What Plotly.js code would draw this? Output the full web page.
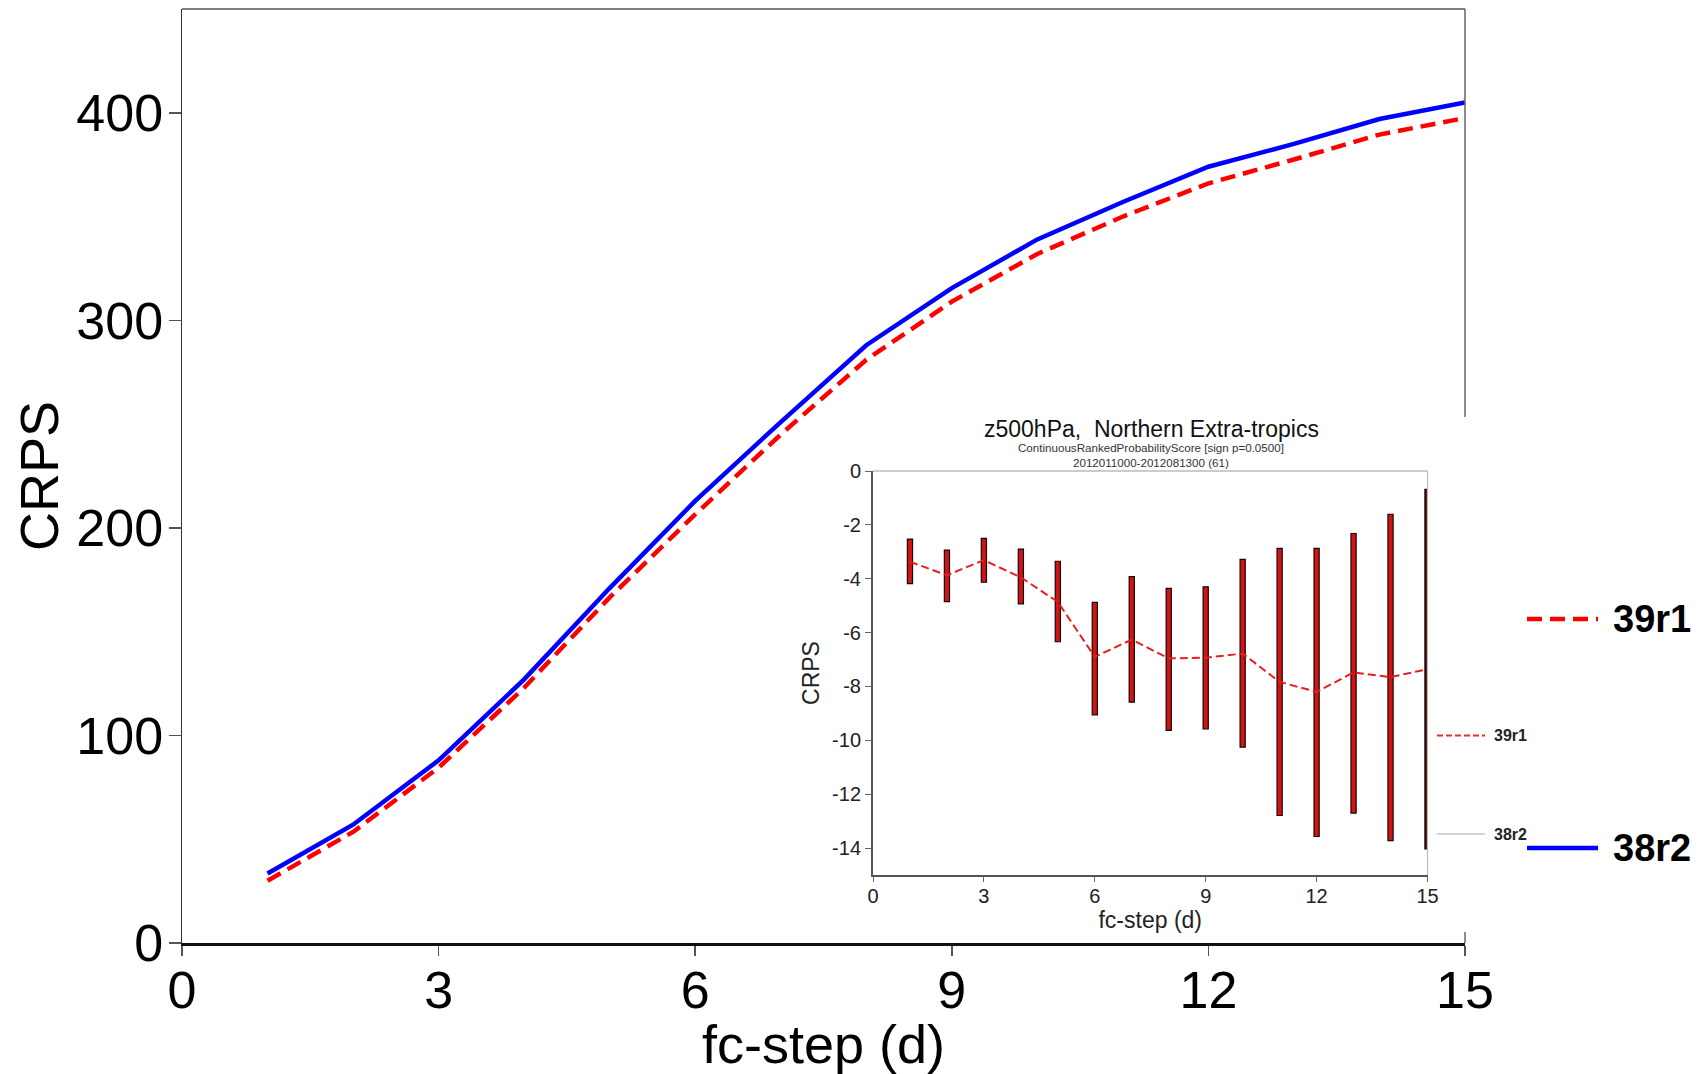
<!DOCTYPE html>
<html>
<head>
<meta charset="utf-8">
<script src="https://cdn.plot.ly/plotly-3.0.1.min.js"></script>
<style>html,body{margin:0;padding:0;background:#fff;}#chart{width:1708px;height:1074px;}</style>
</head>
<body>
<div id="chart"></div>
<script>
// ---- data ----
const days = [1, 2, 3, 4, 5, 6, 7, 8, 9, 10, 11, 12, 13, 14, 15];
const crps38r2 = [33.5, 57, 88, 127, 171, 213, 251, 288, 315.5, 339, 357, 374, 385, 397, 405];
const crps39r1 = [30, 53.5, 84.5, 123, 166.5, 206.5, 245, 281, 309, 332, 350, 366, 377.5, 389.5, 397.5];
const diff39r1 = [-3.37, -3.87, -3.31, -3.95, -4.86, -6.90, -6.26, -6.96, -6.93, -6.78, -7.83, -8.20, -7.48, -7.65, -7.36];
const ciUpper = [-2.53, -2.94, -2.50, -2.90, -3.35, -4.88, -3.92, -4.36, -4.30, -3.28, -2.87, -2.87, -2.32, -1.61, -0.68];
const ciLower = [-4.18, -4.85, -4.13, -4.93, -6.34, -9.06, -8.58, -9.63, -9.58, -10.25, -12.79, -13.57, -12.70, -13.72, -14.03];
const mainXTicks = [0, 3, 6, 9, 12, 15];
const mainYTicks = [0, 100, 200, 300, 400];
const insetYTickVals = [0, -2, -4, -6, -8, -10, -12, -14];
const insetYTickText = ["0", "-2", "-4", "-6", "-8", "-10", "-12", "-14"];
const seriesNames = ["39r1", "38r2"];
const insetTitle = "z500hPa,  Northern Extra-tropics";
const insetSub1 = "ContinuousRankedProbabilityScore [sign p=0.0500]";
const insetSub2 = "2012011000-2012081300 (61)";

// ---- geometry helpers (pixel -> paper) ----
const ML = 182, MR = 1708 - 1465, MT = 9, MB = 1074 - 943;
const PW = 1708 - ML - MR, PH = 1074 - MT - MB;
const px = x => (x - ML) / PW;
const py = y => (943 - y) / PH;

const FONT = "Liberation Sans, Arial, Helvetica, sans-serif";

const barColors = days.map((d, i) => i === days.length - 1 ? "#4a1014" : "#d01414");

const traces = [
  {
    x: days, y: crps39r1, type: "scatter", mode: "lines", name: seriesNames[0],
    line: {color: "#ff0000", width: 4.5, dash: "15px,8px"}, xaxis: "x", yaxis: "y"
  },
  {
    x: days, y: crps38r2, type: "scatter", mode: "lines", name: seriesNames[1],
    line: {color: "#0000ff", width: 4.5}, xaxis: "x", yaxis: "y"
  },
  {
    x: days, base: ciLower, y: ciUpper.map((u, i) => u - ciLower[i]), type: "bar",
    width: 0.14, marker: {color: barColors, line: {color: "#1a0505", width: 1.2}},
    xaxis: "x2", yaxis: "y2", name: "significance"
  },
  {
    x: days, y: diff39r1, type: "scatter", mode: "lines", name: seriesNames[0] + " diff",
    line: {color: "#e52020", width: 2, dash: "8px,4px"}, xaxis: "x2", yaxis: "y2"
  }
];

const layout = {
  width: 1708, height: 1074,
  margin: {l: ML, r: MR, t: MT, b: MB, pad: 0},
  paper_bgcolor: "#ffffff", plot_bgcolor: "rgba(0,0,0,0)",
  showlegend: false,
  font: {family: FONT, color: "#000"},
  xaxis: {
    range: [0, 15], tickvals: mainXTicks, ticks: "outside", ticklen: 10, tickwidth: 1.5, tickcolor: "#555",
    showline: true, linecolor: "#111", linewidth: 2.5, showgrid: false, zeroline: false,
    tickfont: {size: 52, family: FONT}, domain: [0, 1], ticklabelstandoff: -10,
    title: {text: "fc-step (d)", font: {size: 54, family: FONT}, standoff: 2}
  },
  yaxis: {
    range: [0, 450], tickvals: mainYTicks, ticks: "outside", ticklen: 12, tickwidth: 1.5, tickcolor: "#555",
    showline: true, linecolor: "#333", linewidth: 1.5, showgrid: false, zeroline: false,
    tickfont: {size: 52, family: FONT}, domain: [0, 1], ticklabelstandoff: -5,
    title: {text: "CRPS", font: {size: 54, family: FONT}, standoff: 0}
  },
  xaxis2: {
    anchor: "y2", domain: [px(873), px(1427.5)], range: [0, 15], tickvals: mainXTicks,
    ticks: "outside", ticklen: 5, tickwidth: 1, tickcolor: "#666",
    showline: true, linecolor: "#555", linewidth: 2, showgrid: false, zeroline: false,
    tickfont: {size: 20, family: FONT, color: "#222"}, ticklabelstandoff: -3,
    title: {text: "fc-step (d)", font: {size: 23, family: FONT, color: "#222"}, standoff: 0}
  },
  yaxis2: {
    anchor: "x2", domain: [py(875), py(471)], range: [-15, 0],
    tickvals: insetYTickVals, ticktext: insetYTickText,
    ticks: "outside", ticklen: 6, tickwidth: 1, tickcolor: "#666",
    showline: true, linecolor: "#555", linewidth: 2, showgrid: false, zeroline: false,
    tickfont: {size: 20, family: FONT, color: "#222"},
    title: {text: "CRPS", font: {size: 23, family: FONT, color: "#222"}, standoff: 6}
  },
  shapes: [
    // main frame top and (partly hidden) right border
    {type: "line", xref: "paper", yref: "paper", x0: 0, x1: 1, y0: 1, y1: 1, line: {color: "#555", width: 1.5}},
    {type: "line", xref: "paper", yref: "paper", x0: 1, x1: 1, y0: py(417), y1: 1, line: {color: "#666", width: 1.5}},
    {type: "line", xref: "paper", yref: "paper", x0: 1, x1: 1, y0: 0, y1: py(932), line: {color: "#666", width: 1.5}},
    // inset frame top and right
    {type: "line", xref: "x2 domain", yref: "y2 domain", x0: 0, x1: 1, y0: 1, y1: 1, line: {color: "#999", width: 1.2}},
    {type: "line", xref: "x2 domain", yref: "y2 domain", x0: 1, x1: 1, y0: 0, y1: 1, line: {color: "#bbb", width: 1.2}},
    // inset legend samples
    {type: "line", xref: "paper", yref: "paper", x0: px(1437), x1: px(1485), y0: py(735.5), y1: py(735.5), line: {color: "#e03030", width: 2, dash: "6px,3px"}},
    {type: "line", xref: "paper", yref: "paper", x0: px(1437), x1: px(1485), y0: py(834), y1: py(834), line: {color: "#aaaaaa", width: 1.2}},
    // main legend samples
    {type: "line", xref: "paper", yref: "paper", x0: px(1527), x1: px(1598), y0: py(619), y1: py(619), line: {color: "#ff0000", width: 4.5, dash: "15px,8px"}},
    {type: "line", xref: "paper", yref: "paper", x0: px(1527), x1: px(1598), y0: py(848), y1: py(848), line: {color: "#0000ff", width: 4.5}}
  ],
  annotations: [
    {text: insetTitle, xref: "paper", yref: "paper", x: px(1151), y: py(429), xanchor: "center", yanchor: "middle", showarrow: false, font: {size: 23, family: FONT, color: "#111"}},
    {text: insetSub1, xref: "paper", yref: "paper", x: px(1151), y: py(447), xanchor: "center", yanchor: "middle", showarrow: false, font: {size: 11.6, family: FONT, color: "#333"}},
    {text: insetSub2, xref: "paper", yref: "paper", x: px(1151), y: py(462), xanchor: "center", yanchor: "middle", showarrow: false, font: {size: 11.6, family: FONT, color: "#333"}},
    {text: "<b>" + seriesNames[0] + "</b>", xref: "paper", yref: "paper", x: px(1492), y: py(735.5), xanchor: "left", yanchor: "middle", showarrow: false, font: {size: 16, family: FONT, color: "#222"}},
    {text: "<b>" + seriesNames[1] + "</b>", xref: "paper", yref: "paper", x: px(1492), y: py(834), xanchor: "left", yanchor: "middle", showarrow: false, font: {size: 16, family: FONT, color: "#222"}},
    {text: "<b>" + seriesNames[0] + "</b>", xref: "paper", yref: "paper", x: px(1611), y: py(619), xanchor: "left", yanchor: "middle", showarrow: false, font: {size: 38, family: FONT, color: "#000"}},
    {text: "<b>" + seriesNames[1] + "</b>", xref: "paper", yref: "paper", x: px(1611), y: py(848), xanchor: "left", yanchor: "middle", showarrow: false, font: {size: 38, family: FONT, color: "#000"}}
  ]
};

Plotly.newPlot("chart", traces, layout, {staticPlot: true, displayModeBar: false});
</script>
</body>
</html>
